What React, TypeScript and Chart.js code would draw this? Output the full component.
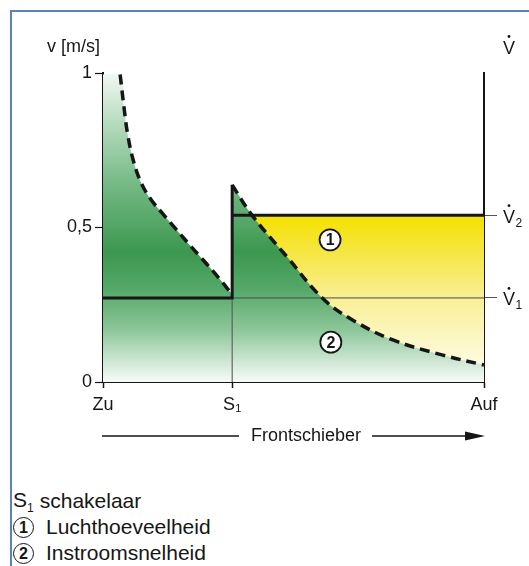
import React, { useEffect, useRef } from 'react';
import { Chart, registerables } from 'chart.js';
Chart.register(...registerables);

const FONT = "'Liberation Sans', Arial, Helvetica, sans-serif";
const INK = '#161616';

// ---- data ----
const S1 = 0.339; // switch position on the front slider axis
const V1 = 0.272; // air volume level 1
const V2 = 0.54; // air volume level 2

const curve1X = [0.045, 0.055, 0.065, 0.08, 0.1, 0.125, 0.155, 0.19, 0.23, 0.27, 0.305, 0.339];
const curve1V = [0.995, 0.89, 0.8, 0.715, 0.645, 0.592, 0.547, 0.497, 0.44, 0.385, 0.335, 0.283];

const curve2X = [0.339, 0.391, 0.483, 0.577, 0.656, 0.761, 0.892, 1.0];
const curve2V = [0.638, 0.54, 0.405, 0.27, 0.2, 0.136, 0.087, 0.055];

const xTicks = [0, S1, 1];
const xTickLabels = ['Zu', 'S\u2081', 'Auf'];
const yTicks = [0, 0.5, 1];
const yTickLabels = ['0', '0,5', '1'];
const y2Ticks = [V1, V2];
const y2TickSubs = ['1', '2'];

const label1 = [0.596, 0.46];
const label2 = [0.598, 0.129];

const legendItems = [
  { kind: 'sub', main: 'S', sub: '1', text: 'schakelaar' },
  { kind: 'circle', main: '1', sub: '', text: 'Luchthoeveelheid' },
  { kind: 'circle', main: '2', sub: '', text: 'Instroomsnelheid' },
];

// ---- styles ----
const greenStops: [number, string][] = [
  [1, '#f2f8f3'],
  [0.82, '#b0d8b9'],
  [0.62, '#6fb680'],
  [0.42, '#3c984f'],
  [0.3, '#55a868'],
  [0.17, '#8cc699'],
  [0.06, '#d2e9d7'],
  [0, '#f7fbf8'],
];
const yellowStops: [number, string][] = [
  [0, '#f4e100'],
  [0.25, '#f6e642'],
  [0.55, '#f9ef95'],
  [1, '#fefbe3'],
];

const pts = (xs: number[], vs: number[]) => xs.map((x, i) => ({ x, y: vs[i] }));

function greenGrad(context: any) {
  const chart = context.chart;
  if (!chart.chartArea) return 'rgba(0,0,0,0)';
  const y = chart.scales.y;
  const g = chart.ctx.createLinearGradient(0, y.getPixelForValue(1), 0, y.getPixelForValue(0));
  greenStops.forEach(([v, c]) => g.addColorStop(1 - v, c));
  return g;
}
function yellowGrad(context: any) {
  const chart = context.chart;
  if (!chart.chartArea) return 'rgba(0,0,0,0)';
  const y = chart.scales.y;
  const g = chart.ctx.createLinearGradient(0, y.getPixelForValue(V2), 0, y.getPixelForValue(curve2V[curve2V.length - 1]));
  yellowStops.forEach(([p, c]) => g.addColorStop(p, c));
  return g;
}

function drawVdot(ctx: CanvasRenderingContext2D, x: number, cy: number, sub: string) {
  ctx.font = `18px ${FONT}`;
  ctx.textAlign = 'left';
  ctx.textBaseline = 'alphabetic';
  const base = cy + 6.5;
  ctx.fillText('V', x, base);
  const w = ctx.measureText('V').width;
  ctx.beginPath();
  ctx.arc(x + w / 2, base - 17, 1.4, 0, Math.PI * 2);
  ctx.fill();
  if (sub) {
    ctx.font = `12px ${FONT}`;
    ctx.fillText(sub, x + w + 0.5, base + 4);
  }
}

function drawCircleLabel(ctx: CanvasRenderingContext2D, x: number, y: number, t: string) {
  ctx.beginPath();
  ctx.arc(x, y, 10.5, 0, Math.PI * 2);
  ctx.fillStyle = '#ffffff';
  ctx.fill();
  ctx.lineWidth = 1.8;
  ctx.strokeStyle = INK;
  ctx.stroke();
  ctx.fillStyle = INK;
  ctx.font = `bold 16px ${FONT}`;
  ctx.textAlign = 'center';
  ctx.textBaseline = 'middle';
  ctx.fillText(t, x, y + 1);
}

const overlay = {
  id: 'overlay',
  afterDraw(chart: any) {
    const { ctx, chartArea, scales } = chart;
    const { left, right, top, bottom } = chartArea;
    const x = scales.x;
    const y = scales.y;
    ctx.save();
    ctx.fillStyle = INK;
    ctx.font = `18px ${FONT}`;
    ctx.textAlign = 'left';
    ctx.textBaseline = 'middle';
    ctx.fillText('v [m/s]', left - 56, top - 26);
    drawVdot(ctx, right + 19, top - 26, '');
    y2Ticks.forEach((v, i) => drawVdot(ctx, right + 19, y.getPixelForValue(v) + 1, y2TickSubs[i]));

    drawCircleLabel(ctx, x.getPixelForValue(label1[0]), y.getPixelForValue(label1[1]), '1');
    drawCircleLabel(ctx, x.getPixelForValue(label2[0]), y.getPixelForValue(label2[1]), '2');

    // axis title with arrow
    const ay = bottom + 54;
    const tx = left + 203;
    ctx.fillStyle = INK;
    ctx.font = `18px ${FONT}`;
    ctx.textAlign = 'center';
    ctx.textBaseline = 'middle';
    const label = 'Frontschieber';
    const tw = ctx.measureText(label).width;
    ctx.fillText(label, tx, ay);
    ctx.strokeStyle = INK;
    ctx.lineWidth = 1.6;
    ctx.beginPath();
    ctx.moveTo(left - 1, ay);
    ctx.lineTo(tx - tw / 2 - 12, ay);
    ctx.moveTo(tx + tw / 2 + 11, ay);
    ctx.lineTo(right - 16, ay);
    ctx.stroke();
    ctx.beginPath();
    ctx.moveTo(right + 1, ay);
    ctx.lineTo(right - 19, ay - 4.5);
    ctx.lineTo(right - 19, ay + 4.5);
    ctx.closePath();
    ctx.fill();
    ctx.restore();
  },
};

export default function App() {
  const ref = useRef<HTMLCanvasElement>(null);
  useEffect(() => {
    const tickFont = { family: FONT, size: 18 };
    const chart = new Chart(ref.current as HTMLCanvasElement, {
      type: 'line',
      data: {
        datasets: [
          {
            label: 'yellow',
            data: [{ x: S1, y: V2 }, { x: 1, y: V2 }],
            fill: 'origin',
            backgroundColor: yellowGrad,
            borderWidth: 0,
            pointRadius: 0,
            order: 40,
          },
          {
            label: 'green1',
            data: [{ x: 0, y: curve1V[0] }, ...pts(curve1X, curve1V)],
            fill: 'origin',
            backgroundColor: greenGrad,
            borderWidth: 0,
            pointRadius: 0,
            tension: 0.4,
            order: 30,
          },
          {
            label: 'green2',
            data: pts(curve2X, curve2V),
            fill: 'origin',
            backgroundColor: greenGrad,
            borderWidth: 0,
            pointRadius: 0,
            tension: 0.4,
            order: 30,
          },
          {
            label: 'thinV1',
            data: [{ x: S1, y: V1 }, { x: 1, y: V1 }],
            borderColor: '#4a4a4a',
            borderWidth: 1,
            pointRadius: 0,
            fill: false,
            order: 20,
          },
          {
            label: 'thinS1',
            data: [{ x: S1, y: 0 }, { x: S1, y: V1 }],
            borderColor: '#4a4a4a',
            borderWidth: 1,
            pointRadius: 0,
            fill: false,
            order: 20,
          },
          {
            label: 'step',
            data: [{ x: 0, y: V1 }, { x: S1, y: V1 }, { x: S1, y: curve2V[0] }],
            borderColor: INK,
            borderWidth: 3,
            pointRadius: 0,
            fill: false,
            order: 5,
          },
          {
            label: 'v2line',
            data: [{ x: S1, y: V2 }, { x: 1, y: V2 }],
            borderColor: INK,
            borderWidth: 3,
            pointRadius: 0,
            fill: false,
            order: 5,
          },
          {
            label: 'curve1',
            data: pts(curve1X, curve1V),
            borderColor: INK,
            borderWidth: 3.5,
            borderDash: [10, 6],
            pointRadius: 0,
            fill: false,
            tension: 0.4,
            order: 1,
          },
          {
            label: 'curve2',
            data: pts(curve2X, curve2V),
            borderColor: INK,
            borderWidth: 3.5,
            borderDash: [10, 6],
            pointRadius: 0,
            fill: false,
            tension: 0.4,
            order: 1,
          },
        ],
      },
      options: {
        animation: false,
        responsive: false,
        devicePixelRatio: 1,
        layout: { padding: { top: 73, left: 0, right: 0, bottom: 0 } },
        plugins: { legend: { display: false }, tooltip: { enabled: false } },
        scales: {
          x: {
            type: 'linear',
            min: 0,
            max: 1,
            afterBuildTicks: (s: any) => {
              s.ticks = xTicks.map((v) => ({ value: v }));
            },
            afterFit: (s: any) => {
              s.height = 88;
            },
            ticks: {
              autoSkip: false,
              maxRotation: 0,
              padding: 6,
              color: INK,
              font: tickFont,
              callback: (_v: any, i: number) => xTickLabels[i],
            },
            grid: { drawOnChartArea: false, drawTicks: true, tickLength: 6, tickColor: INK, tickWidth: 1.5 },
            border: { display: true, color: INK, width: 2 },
          },
          y: {
            type: 'linear',
            position: 'left',
            min: 0,
            max: 1,
            afterBuildTicks: (s: any) => {
              s.ticks = yTicks.map((v) => ({ value: v }));
            },
            afterFit: (s: any) => {
              s.width = 103;
            },
            ticks: {
              autoSkip: false,
              padding: 3,
              color: INK,
              font: tickFont,
              callback: (_v: any, i: number) => yTickLabels[i],
            },
            grid: { drawOnChartArea: false, drawTicks: true, tickLength: 8, tickColor: INK, tickWidth: 1.2 },
            border: { display: true, color: INK, width: 2 },
          },
          y2: {
            type: 'linear',
            position: 'right',
            min: 0,
            max: 1,
            afterBuildTicks: (s: any) => {
              s.ticks = y2Ticks.map((v) => ({ value: v }));
            },
            afterFit: (s: any) => {
              s.width = 45;
            },
            ticks: { autoSkip: false, padding: 0, font: tickFont, callback: () => '' },
            grid: { drawOnChartArea: false, drawTicks: true, tickLength: 13, tickColor: '#555555', tickWidth: 1 },
            border: { display: true, color: INK, width: 2 },
          },
        },
      },
      plugins: [overlay],
    } as any);
    return () => chart.destroy();
  }, []);

  return (
    <div
      style={{
        position: 'absolute',
        left: 0,
        top: 0,
        width: 529,
        height: 566,
        overflow: 'hidden',
        background: '#ffffff',
        fontFamily: FONT,
        color: INK,
      }}
    >
      <div
        style={{
          position: 'absolute',
          left: 10,
          top: 10,
          width: 640,
          height: 640,
          borderTop: '2px solid #5b82bd',
          borderLeft: '2px solid #5b82bd',
        }}
      />
      <canvas
        ref={ref}
        width={529}
        height={470}
        style={{ position: 'absolute', left: 0, top: 0, width: 529, height: 470 }}
      />
      <div style={{ position: 'absolute', left: 13, top: 488, fontSize: 21, lineHeight: '26px', whiteSpace: 'nowrap' }}>
        {legendItems.map((it, i) => (
          <div key={i} style={{ height: 26, display: 'flex', alignItems: 'center' }}>
            {it.kind === 'sub' ? (
              <span>
                {it.main}
                <span style={{ fontSize: 12, position: 'relative', top: 5 }}>{it.sub}</span>
              </span>
            ) : (
              <span
                style={{
                  display: 'inline-block',
                  width: 19,
                  height: 19,
                  border: '1.6px solid ' + INK,
                  borderRadius: '50%',
                  textAlign: 'center',
                  lineHeight: '19px',
                  fontSize: 16,
                  fontWeight: 'bold',
                  boxSizing: 'content-box',
                }}
              >
                {it.main}
              </span>
            )}
            <span style={{ marginLeft: it.kind === 'sub' ? 6 : 12 }}>{it.text}</span>
          </div>
        ))}
      </div>
    </div>
  );
}
